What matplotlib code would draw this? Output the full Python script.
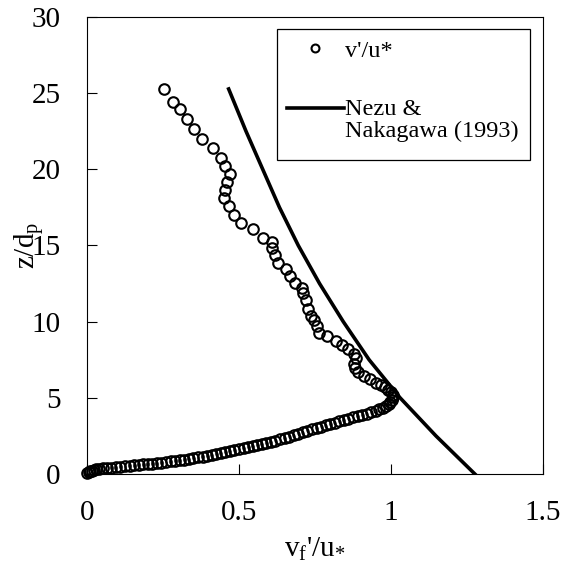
import numpy as np
import matplotlib
matplotlib.use("Agg")
import matplotlib.pyplot as plt
from matplotlib.legend_handler import HandlerLine2D
from matplotlib.patches import Rectangle

plt.rcParams['font.family'] = ['Liberation Serif', 'DejaVu Serif']
plt.rcParams['mathtext.fontset'] = 'custom'
plt.rcParams['mathtext.rm'] = 'Liberation Serif'
plt.rcParams['mathtext.it'] = 'Liberation Serif:italic'

# measured v'/u* (x) against z/dp (y)
meas_x = [0.000, 0.005, 0.010, 0.015, 0.022, 0.030, 0.040, 0.052, 0.065, 0.080,
          0.095, 0.110, 0.125, 0.140, 0.155, 0.170, 0.185, 0.200, 0.215, 0.230,
          0.245, 0.260, 0.275, 0.290, 0.305, 0.320, 0.335, 0.350, 0.365, 0.380,
          0.395, 0.410, 0.425, 0.440, 0.455, 0.470, 0.485, 0.500, 0.515, 0.530,
          0.545, 0.560, 0.575, 0.590, 0.605, 0.620, 0.635, 0.650, 0.665, 0.680,
          0.695, 0.710, 0.725, 0.740, 0.755, 0.770, 0.785, 0.800, 0.815, 0.830,
          0.845, 0.860, 0.875, 0.890, 0.905, 0.920, 0.935, 0.950, 0.962, 0.974,
          0.984, 0.992, 0.998, 1.003, 1.006, 1.005, 1.000, 0.991, 0.980, 0.966,
          0.950, 0.930, 0.912, 0.893, 0.882, 0.878, 0.884, 0.878, 0.860, 0.840,
          0.819, 0.789, 0.763, 0.756, 0.748, 0.736, 0.728, 0.721, 0.712, 0.707,
          0.685, 0.669, 0.656, 0.627, 0.618, 0.608, 0.607, 0.580, 0.547, 0.508,
          0.482, 0.466, 0.450, 0.454, 0.460, 0.470, 0.454, 0.440, 0.413, 0.379,
          0.353, 0.330, 0.306, 0.282, 0.252]
meas_y = [0.07, 0.12, 0.17, 0.22, 0.27, 0.31, 0.34, 0.37, 0.40, 0.42,
          0.45, 0.48, 0.51, 0.54, 0.57, 0.60, 0.63, 0.66, 0.69, 0.72,
          0.75, 0.79, 0.83, 0.87, 0.91, 0.95, 1.00, 1.05, 1.10, 1.15,
          1.20, 1.26, 1.32, 1.38, 1.44, 1.50, 1.56, 1.62, 1.69, 1.76,
          1.83, 1.90, 1.97, 2.04, 2.12, 2.20, 2.28, 2.36, 2.45, 2.54,
          2.63, 2.73, 2.83, 2.93, 3.02, 3.12, 3.21, 3.30, 3.38, 3.47,
          3.55, 3.63, 3.72, 3.80, 3.88, 3.96, 4.05, 4.14, 4.24, 4.35,
          4.47, 4.60, 4.74, 4.89, 5.04, 5.20, 5.36, 5.52, 5.68, 5.84,
          6.00, 6.22, 6.42, 6.70, 6.95, 7.25, 7.60, 7.88, 8.18, 8.44,
          8.73, 9.03, 9.27, 9.74, 10.09, 10.38, 10.85, 11.39, 11.86, 12.22,
          12.55, 12.97, 13.44, 13.87, 14.39, 14.81, 15.24, 15.52, 16.11, 16.46,
          17.03, 17.59, 18.11, 18.63, 19.17, 19.69, 20.24, 20.75, 21.42, 21.98,
          22.64, 23.30, 23.96, 24.43, 25.26]

# Nezu & Nakagawa (1993) curve
nezu_x = [1.276, 1.148, 1.030, 0.928, 0.843, 0.765, 0.695, 0.633, 0.578,
          0.523, 0.466]
nezu_y = [0.00, 2.50, 5.00, 7.50, 10.00, 12.50, 15.00, 17.50, 20.00,
          22.50, 25.27]

xticks = [0, 0.5, 1, 1.5]
xtick_labels = ['0', '0.5', '1', '1.5']
yticks = [0, 5, 10, 15, 20, 25, 30]

fig = plt.figure(figsize=(5.63, 5.63), dpi=100)
ax = fig.add_axes([0.1545, 0.158, 0.81, 0.812])

ax.plot(meas_x, meas_y, linestyle='none', marker='o', ms=7.6, mew=1.5,
        mfc='none', mec='black', clip_on=False, label="v'/u*", zorder=3)
ax.plot(nezu_x, nezu_y, color='black', lw=2.6,
        label="Nezu &\nNakagawa (1993)", zorder=2)

ax.set_xlim(0, 1.5)
ax.set_ylim(0, 30)
ax.set_xticks(xticks)
ax.set_xticklabels(xtick_labels)
ax.set_yticks(yticks)
ax.tick_params(direction='in', length=7, width=0.8, labelsize=21, pad=19,
               colors='black')
for s in ax.spines.values():
    s.set_linewidth(0.8)
    s.set_color('black')

ax.set_xlabel(r"v$_\mathregular{f}$'/u$_\mathregular{*}$", fontsize=21, labelpad=7)
ax.set_ylabel(r"z/d$_\mathregular{p}$", fontsize=21)
ax.yaxis.set_label_coords(-0.09, 0.5)


class UpLine(HandlerLine2D):
    def __init__(self, shift, **kw):
        super().__init__(**kw)
        self.shift = shift

    def create_artists(self, legend, orig_handle, xdescent, ydescent,
                       width, height, fontsize, trans):
        arts = super().create_artists(legend, orig_handle, xdescent, ydescent,
                                      width, height, fontsize, trans)
        for a in arts:
            a.set_ydata(np.asarray(a.get_ydata()) + self.shift * fontsize)
        return arts


# legend frame
ax.add_patch(Rectangle((0.4167, 0.687), 0.9715 - 0.4167, 0.9737 - 0.687,
                       transform=ax.transAxes, facecolor='white',
                       edgecolor='black', lw=0.9, zorder=4, clip_on=False))

handles, labels = ax.get_legend_handles_labels()
leg = ax.legend(handles, labels, loc='upper right',
                bbox_to_anchor=(0.971, 0.974), fontsize=17.5,
                frameon=False, borderpad=0.45, labelspacing=1.55,
                handlelength=2.35, handletextpad=0.05, borderaxespad=0,
                markerscale=0.75,
                handler_map={handles[1]: UpLine(0.5)})
leg.set_zorder(5)
for t in leg.get_texts():
    t.set_linespacing(1.0)

fig.savefig('out.png', dpi=100)
